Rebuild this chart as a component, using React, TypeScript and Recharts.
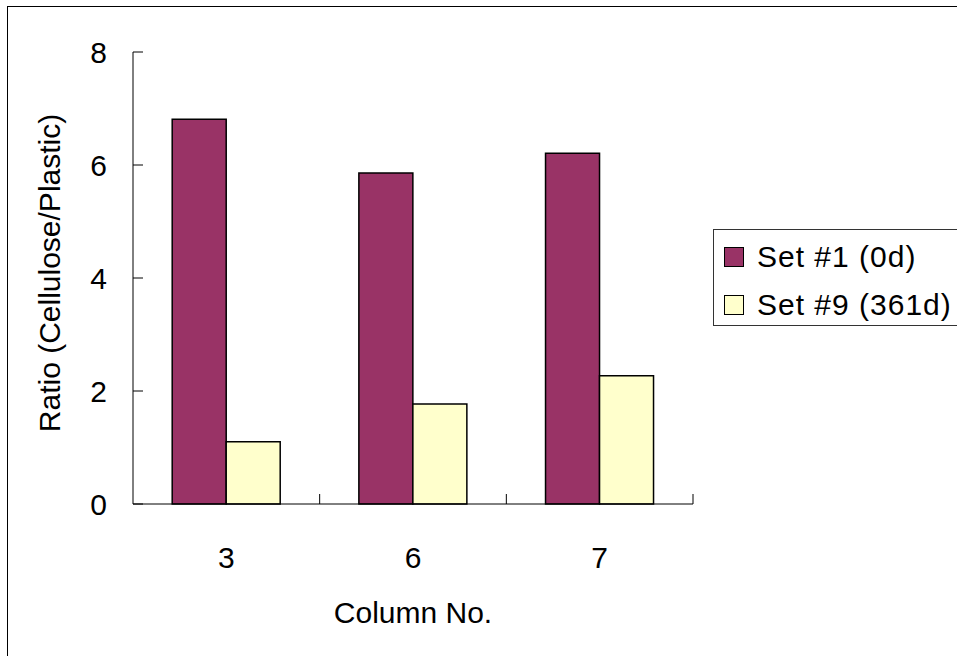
import React from 'react';
import { BarChart, Bar, XAxis, YAxis } from 'recharts';

const categories = ['3', '6', '7'];
const set1Values = [6.81, 5.86, 6.21];
const set9Values = [1.1, 1.77, 2.27];
const seriesNames = ['Set #1 (0d)', 'Set #9 (361d)'];
const seriesKeys = ['s1', 's9'];
const seriesColors = ['#993366', '#FFFFCC'];
const yTicks = [0, 2, 4, 6, 8];
const xTitle = 'Column No.';
const yTitle = 'Ratio (Cellulose/Plastic)';

const data = categories.map((c, i) => ({ column: c, s1: set1Values[i], s9: set9Values[i] }));

const FONT = '"Liberation Sans", Arial, sans-serif';
const W = 957;
const H = 656;
const margin = { top: 52, right: 264, left: 0, bottom: 0 };
const Y_AXIS_W = 133;
const X_AXIS_H = 152;
const plotW = W - margin.right - margin.left - Y_AXIS_W;
const plotTop = margin.top;
const plotBottom = H - margin.bottom - X_AXIS_H;
const bandW = plotW / categories.length;

function XTick(props: any) {
  const { x, y, payload } = props;
  return (
    <g>
      <line x1={x + bandW / 2} x2={x + bandW / 2} y1={y} y2={y - 10} stroke="#000" strokeWidth={1} />
      <text x={x} y={y + 64} textAnchor="middle" fontSize={30} fontFamily={FONT} fill="#000">
        {payload.value}
      </text>
    </g>
  );
}

function YTick(props: any) {
  const { x, y, payload } = props;
  return (
    <g>
      <line x1={x} x2={x + 10} y1={y} y2={y} stroke="#000" strokeWidth={1} />
      <text x={x - 26} y={y + 11} textAnchor="end" fontSize={30} fontFamily={FONT} fill="#000">
        {payload.value}
      </text>
    </g>
  );
}

const YTitle = () => {
  const cx = 49;
  const cy = (plotTop + plotBottom) / 2 - 5;
  return (
    <text
      x={cx}
      y={cy}
      transform={`rotate(-90, ${cx}, ${cy})`}
      textAnchor="middle"
      dominantBaseline="central"
      fontSize={30}
      fontFamily={FONT}
      fill="#000"
    >
      {yTitle}
    </text>
  );
};

const XTitle = () => {
  const cx = Y_AXIS_W + plotW / 2;
  return (
    <text x={cx} y={623} textAnchor="middle" fontSize={30} fontFamily={FONT} fill="#000">
      {xTitle}
    </text>
  );
};

export default function App() {
  return (
    <div
      style={{
        position: 'fixed',
        left: 0,
        top: 0,
        width: W,
        height: H,
        overflow: 'hidden',
        background: '#fff',
      }}
    >
      <div
        style={{
          position: 'absolute',
          left: 7,
          top: 6,
          width: 1000,
          height: 700,
          border: '1px solid #000',
        }}
      />
      <div style={{ position: 'absolute', left: 0, top: 0 }}>
        <BarChart width={W} height={H} data={data} margin={margin} barCategoryGap="21%" barGap={0}>
          <XAxis
            dataKey="column"
            height={X_AXIS_H}
            interval={0}
            tickSize={0}
            tickMargin={0}
            tickLine={false}
            axisLine={{ stroke: '#000', strokeWidth: 1 }}
            tick={<XTick />}
            label={<XTitle />}
          />
          <YAxis
            width={Y_AXIS_W}
            domain={[0, 8]}
            ticks={yTicks}
            interval={0}
            tickSize={0}
            tickMargin={0}
            tickLine={false}
            axisLine={{ stroke: '#000', strokeWidth: 1 }}
            tick={<YTick />}
            label={<YTitle />}
          />
          {seriesKeys.map((k, i) => (
            <Bar
              key={k}
              dataKey={k}
              name={seriesNames[i]}
              fill={seriesColors[i]}
              stroke="#000"
              strokeWidth={1.5}
              isAnimationActive={false}
            />
          ))}
        </BarChart>
      </div>
      <div
        style={{
          position: 'absolute',
          left: 713,
          top: 229,
          width: 260,
          height: 97,
          border: '1px solid #333',
          boxSizing: 'border-box',
          background: '#fff',
        }}
      >
        {seriesNames.map((n, i) => (
          <div
            key={n}
            style={{
              position: 'absolute',
              left: 10,
              top: 17 + i * 48,
              height: 20,
              display: 'flex',
              alignItems: 'center',
              whiteSpace: 'nowrap',
            }}
          >
            <div
              style={{
                width: 20,
                height: 20,
                boxSizing: 'border-box',
                border: '1.5px solid #000',
                background: seriesColors[i],
              }}
            />
            <span
              style={{
                marginLeft: 13,
                fontSize: 30,
                fontFamily: FONT,
                lineHeight: '20px',
                letterSpacing: 1,
                color: '#000',
              }}
            >
              {n}
            </span>
          </div>
        ))}
      </div>
    </div>
  );
}
